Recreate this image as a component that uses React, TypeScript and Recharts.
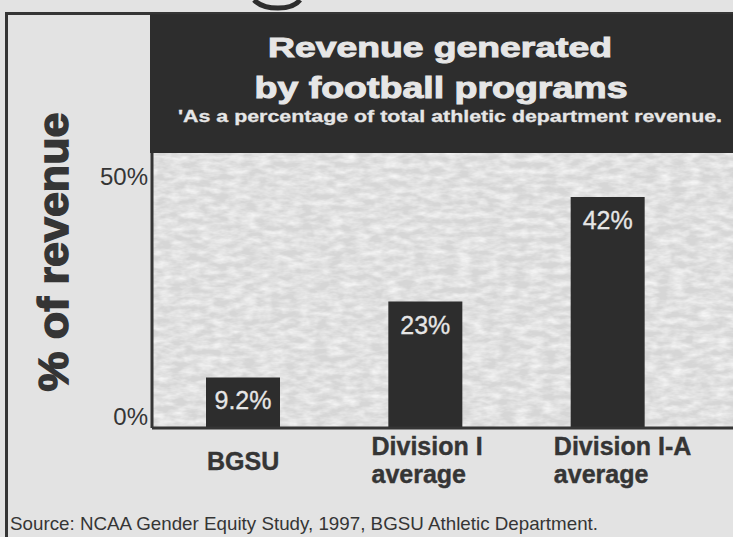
import { Bar, BarChart, CartesianGrid, LabelList, XAxis, YAxis } from "recharts";

const categories = ["BGSU", "Division I average", "Division I-A average"];
const categoryLines = [["BGSU"], ["Division I", "average"], ["Division I-A", "average"]];
const revenueShare = [9.2, 23, 42];
const yTicks = [0, 50];

const data = categories.map((name, i) => ({
	name,
	lines: categoryLines[i],
	value: revenueShare[i],
}));

const FONT = '"Liberation Sans", Arial, Helvetica, sans-serif';
const INK = "#353535";
const DARK = "#2d2d2d";
const PAPER = "#e3e3e3";
const LIGHT = "#e6e6e6";

function CategoryTick(props: any) {
	const { x, y, payload } = props;
	const lines = categoryLines[categories.indexOf(payload.value)] ?? [payload.value];
	const common = {
		fontSize: 25,
		fontWeight: "bold",
		fill: INK,
		stroke: INK,
		strokeWidth: 0.4,
		fontFamily: FONT,
	};
	if (lines.length === 1) {
		return (
			<text x={x} y={y + 42} textAnchor="middle" {...common}>
				{lines[0]}
			</text>
		);
	}
	return (
		<text x={x - 54} y={y + 27} textAnchor="start" {...common}>
			{lines.map((line: string, i: number) => (
				<tspan key={line} x={x - 54} dy={i === 0 ? 0 : 28}>
					{line}
				</tspan>
			))}
		</text>
	);
}

function PercentTick(props: any) {
	const { x, y, payload } = props;
	// labels sit inside the axis range: top one below the max, bottom one on the baseline
	const dy = payload.value === 0 ? -3 : 32;
	return (
		<text x={x} y={y + dy} textAnchor="end" fontSize={24} fill={INK} fontFamily={FONT}>
			{`${payload.value}%`}
		</text>
	);
}

function BarValue(props: any) {
	const { x, y, width, value } = props;
	return (
		<text
			x={x + width / 2}
			y={y + 32}
			textAnchor="middle"
			fontSize={25}
			fill={LIGHT}
			stroke={LIGHT}
			strokeWidth={0.3}
			fontFamily={FONT}
		>
			{`${value}%`}
		</text>
	);
}

export default function App() {
	return (
		<div
			style={{
				position: "fixed",
				left: 0,
				top: 0,
				width: 733,
				height: 537,
				overflow: "hidden",
				background: PAPER,
			}}
		>
			<svg width={733} height={537} style={{ position: "absolute", left: 0, top: 0 }}>
				<defs>
					<filter id="grain" x="0" y="0" width="100%" height="100%">
						<feTurbulence type="fractalNoise" baseFrequency="0.07 0.16" numOctaves={3} seed={11} result="n" />
						<feColorMatrix
							in="n"
							type="matrix"
							values="0 0 0 0 1  0 0 0 0 1  0 0 0 0 1  1.3 0 0 0 -0.4"
						/>
					</filter>
					<pattern id="paper" patternUnits="userSpaceOnUse" x={0} y={0} width={733} height={537}>
						<rect width={733} height={537} fill="#d6d6d6" />
						<rect width={733} height={537} fill="#fff" filter="url(#grain)" />
					</pattern>
				</defs>
				{/* tail of a cut-off letter from the headline above */}
				<path d="M254 0 Q262 8 278 8 Q294 8 300 0" fill="none" stroke={DARK} strokeWidth={5} />
				<path d="M6.5 537 L6.5 13.5 L733 13.5" fill="none" stroke={INK} strokeWidth={3} />
				<rect x={150} y={14} width={583} height={139} fill={DARK} />
				<g fill={LIGHT} stroke={LIGHT} fontFamily={FONT} fontWeight="bold" textAnchor="middle">
					<text x={440} y={57} fontSize={28} strokeWidth={1} textLength={344} lengthAdjust="spacingAndGlyphs">
						Revenue generated
					</text>
					<text x={441} y={98} fontSize={29} strokeWidth={1} textLength={373} lengthAdjust="spacingAndGlyphs">
						by football programs
					</text>
					<text x={450} y={122} fontSize={17} strokeWidth={0.3} textLength={544} lengthAdjust="spacingAndGlyphs">
						'As a percentage of total athletic department revenue.
					</text>
				</g>
				<text
					x={68}
					y={252}
					transform="rotate(-90 68 252)"
					textAnchor="middle"
					fontSize={43}
					fontWeight="bold"
					fill={INK}
					stroke={INK}
					strokeWidth={1.5}
					fontFamily={FONT}
					textLength={279}
					lengthAdjust="spacingAndGlyphs"
				>
					% of revenue
				</text>
				<text
					x={10}
					y={530}
					fontSize={19}
					fill={INK}
					fontFamily={FONT}
					textLength={588}
					lengthAdjust="spacingAndGlyphs"
				>
					Source: NCAA Gender Equity Study, 1997, BGSU Athletic Department.
				</text>
			</svg>
			<div style={{ position: "absolute", left: 0, top: 0 }}>
				<BarChart
					width={733}
					height={537}
					data={data}
					margin={{ top: 153, right: 0, bottom: 0, left: 0 }}
				>
					<CartesianGrid fill="url(#paper)" horizontal={false} vertical={false} />
					<XAxis
						dataKey="name"
						height={109}
						padding={{ left: 0, right: 34 }}
						axisLine={{ stroke: INK, strokeWidth: 3 }}
						tickLine={false}
						tickSize={0}
						tickMargin={0}
						interval={0}
						tick={<CategoryTick />}
					/>
					<YAxis
						domain={[0, 50]}
						ticks={yTicks}
						width={152}
						axisLine={{ stroke: INK, strokeWidth: 3 }}
						tickLine={false}
						tickSize={0}
						tickMargin={4}
						tick={<PercentTick />}
					/>
					<Bar dataKey="value" fill={DARK} barSize={74} isAnimationActive={false}>
						<LabelList dataKey="value" content={<BarValue />} />
					</Bar>
				</BarChart>
			</div>
		</div>
	);
}
